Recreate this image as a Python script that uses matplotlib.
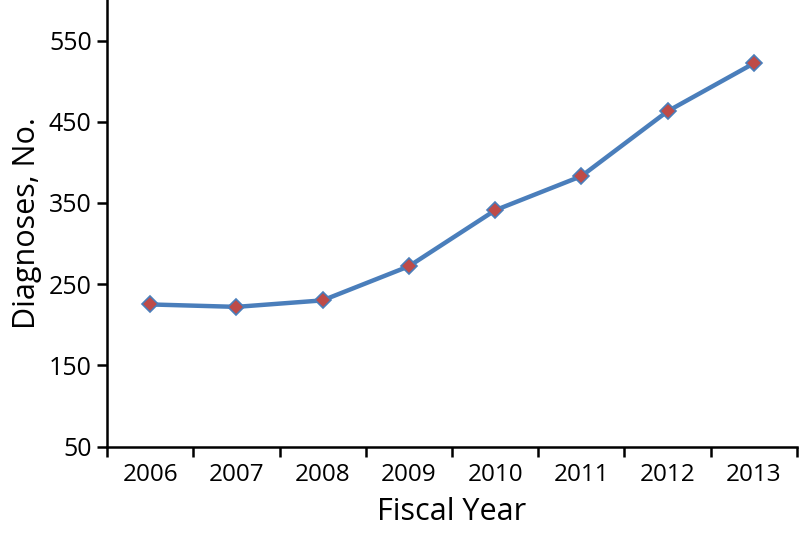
import numpy as np
import matplotlib
matplotlib.use("Agg")
import matplotlib.pyplot as plt

plt.rcParams['font.family'] = ['Open Sans', 'DejaVu Sans']

years = ['2006', '2007', '2008', '2009', '2010', '2011', '2012', '2013']
diagnoses = [225, 222, 230, 272, 341, 383, 463, 522]
y_ticks = [50, 150, 250, 350, 450, 550]

fig = plt.figure(figsize=(8.01, 5.39), dpi=100)
ax = fig.add_axes([0.1336, 0.1716, 0.8614, 0.8284])

x = np.arange(len(years))
ax.plot(x, diagnoses, color='#4A7EBB', linewidth=3.2, marker='D',
        markersize=8, markerfacecolor='#BE4B48', markeredgecolor='#4A7EBB',
        markeredgewidth=1.2, clip_on=False)

ax.set_xlim(-0.5, len(years) - 0.5)
ax.set_ylim(50, 600)

# boundary ticks on the x axis, labels centred on categories
ax.set_xticks(np.arange(len(years) + 1) - 0.5)
ax.set_xticklabels([])
ax.set_xticks(x, minor=True)
ax.set_xticklabels(years, minor=True, fontsize=17.5)
ax.tick_params(axis='x', which='minor', length=0, pad=12)
ax.tick_params(axis='x', which='major', length=7, width=1.8, direction='out')

ax.set_yticks(y_ticks)
ax.set_yticklabels([str(v) for v in y_ticks], fontsize=18)
ax.tick_params(axis='y', length=7, width=1.8, direction='out', pad=4)

for s in ['top', 'right']:
    ax.spines[s].set_visible(False)
for s in ['left', 'bottom']:
    ax.spines[s].set_linewidth(1.8)

ax.set_xlabel('Fiscal Year', fontsize=22, labelpad=7)
ax.set_ylabel('Diagnoses, No.', fontsize=22, labelpad=5)

fig.savefig('out.png', dpi=100)
